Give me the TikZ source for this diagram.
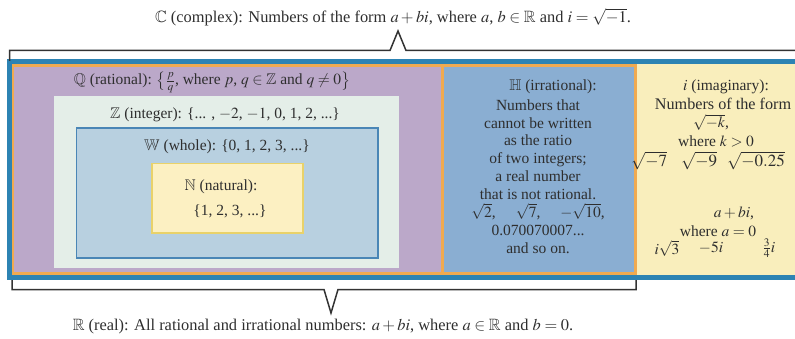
\documentclass[tikz,border=0pt]{standalone}
\usepackage{amsmath,amssymb}
\usepackage{mathptmx}
\usepackage{fontspec}
\setmainfont{Liberation Serif}
\definecolor{cblue}{HTML}{2D83B3}
\definecolor{corange}{HTML}{F0AA50}
\definecolor{cpurple}{HTML}{BBA8C9}
\definecolor{cmint}{HTML}{E4EEE8}
\definecolor{cwhole}{HTML}{B8D0E0}
\definecolor{cwholeb}{HTML}{4A86B6}
\definecolor{cnat}{HTML}{FCF0C2}
\definecolor{cnatb}{HTML}{E9D26A}
\definecolor{cirr}{HTML}{8AAED2}
\definecolor{cimag}{HTML}{F9EEBC}
\definecolor{ctext}{HTML}{2E2E2E}
\definecolor{cbrack}{HTML}{333333}
\tikzset{
  lbl/.style={text=ctext, font=\fontsize{15.5}{17.9}\selectfont, inner sep=0pt, align=center},
  biglbl/.style={lbl, font=\fontsize{16.4}{18}\selectfont},
  rootlbl/.style={lbl, font=\fontsize{17}{18}\selectfont, anchor=west},
  brack/.style={draw=cbrack, line width=1.5pt, line join=miter},
}
\begin{document}
\begin{tikzpicture}[x=1pt,y=-1pt]
\useasboundingbox (0,0) rectangle (795,339);
% outer complex region
\fill[cimag] (9.5,61.5) rectangle (805,277.5);
% real region parts
\fill[cpurple] (12.5,65.5) rectangle (442.5,273.5);
\fill[cirr] (442.5,65.5) rectangle (635.5,273.5);
\draw[corange, line width=3.5pt] (12.5,65.5) rectangle (635.5,273.5);
\draw[corange, line width=3.5pt] (442.5,65.5) -- (442.5,273.5);
\draw[cblue, line width=4.5pt] (9.5,61.5) rectangle (805,277.5);
% nested boxes
\fill[cmint] (54,96) rectangle (399,268);
\draw[cwholeb, fill=cwhole, line width=1.2pt] (76.5,128) rectangle (378,258);
\draw[cnatb, fill=cnat, line width=1.5pt] (152,163.5) rectangle (303,233);

% texts
\node[lbl] (qtxt) at (212,82) {$\mathbb{Q}$ (rational): $\bigl\{\frac{p}{q}$, where $p$, $q\in\mathbb{Z}$ and $q\neq 0\bigr\}$};
\node[lbl] (ztxt) at (225,115) {$\mathbb{Z}$ (integer): \{... , $-2$, $-1$, 0, 1, 2, ...\}};
\node[lbl] (wtxt) at (227,147) {$\mathbb{W}$ (whole): \{0, 1, 2, 3, ...\}};
\node[lbl] (ntxt1) at (221,187) {$\mathbb{N}$ (natural):};
\node[lbl] (ntxt2) at (230,211) {\{1, 2, 3, ...\}};

\node[lbl] (h0) at (553,87) {$\mathbb{H}$ (irrational):};
\node[lbl] (htxt) at (538,176.5) {Numbers that\\cannot be written\\as the ratio\\of two integers;\\a real number\\that is not rational.\\$\sqrt{2}$,\hspace{20pt}$\sqrt{7}$,\hspace{20pt}$-\sqrt{10}$,\\0.070070007...\\and so on.};

\node[lbl] (i1) at (726,87) {$i$ (imaginary):};
\node[lbl, font=\fontsize{16.2}{18}\selectfont] (i2) at (723,104) {Numbers of the form};
\node[lbl] (i3) at (711,122) {$\sqrt{-k}$,};
\node[lbl] (i4) at (716,141) {where $k>0$};
\node[rootlbl] (i5a) at (631,160.5) {$\sqrt{-7}$};
\node[rootlbl] (i5b) at (681,160.5) {$\sqrt{-9}$};
\node[rootlbl] (i5c) at (727,160.5) {$\sqrt{-0.25}$};
\node[lbl] (i6) at (734,213) {$a+bi$,};
\node[lbl] (i7) at (718,231.5) {where $a=0$};
\node[lbl] (i8) at (667,248) {$i\sqrt{3}$};
\node[lbl] (i9) at (711,248) {$-5i$};
\node[lbl] (i10) at (769,248) {$\tfrac{3}{4}i$};

\node[biglbl] (ctxt) at (393,17) {$\mathbb{C}$ (complex): Numbers of the form $a+bi$, where $a$, $b\in\mathbb{R}$ and $i=\sqrt{-1}$.};
\node[biglbl] (rtxt) at (323,327) {$\mathbb{R}$ (real): All rational and irrational numbers: $a+bi$, where $a\in\mathbb{R}$ and $b=0$.};

% brackets
\coordinate (ct0) at (9.5,61);
\coordinate (ct1) at (9.5,50.5);
\coordinate (ct2) at (390,50.5);
\coordinate (ctip) at (398,31);
\coordinate (ct3) at (406,50.5);
\coordinate (ct4) at (805,50.5);
\draw[brack] (ct0) -- (ct1) -- (ct2) -- (ctip) -- (ct3) -- (ct4);
\coordinate (rb0) at (12,280);
\coordinate (rb1) at (12,289.5);
\coordinate (rb2) at (324,289.5);
\coordinate (rtip) at (331,313);
\coordinate (rb3) at (338,289.5);
\coordinate (rb4) at (636,289.5);
\coordinate (rb5) at (636,280);
\draw[brack] (rb0) -- (rb1) -- (rb2) -- (rtip) -- (rb3) -- (rb4) -- (rb5);
\end{tikzpicture}
\end{document}
